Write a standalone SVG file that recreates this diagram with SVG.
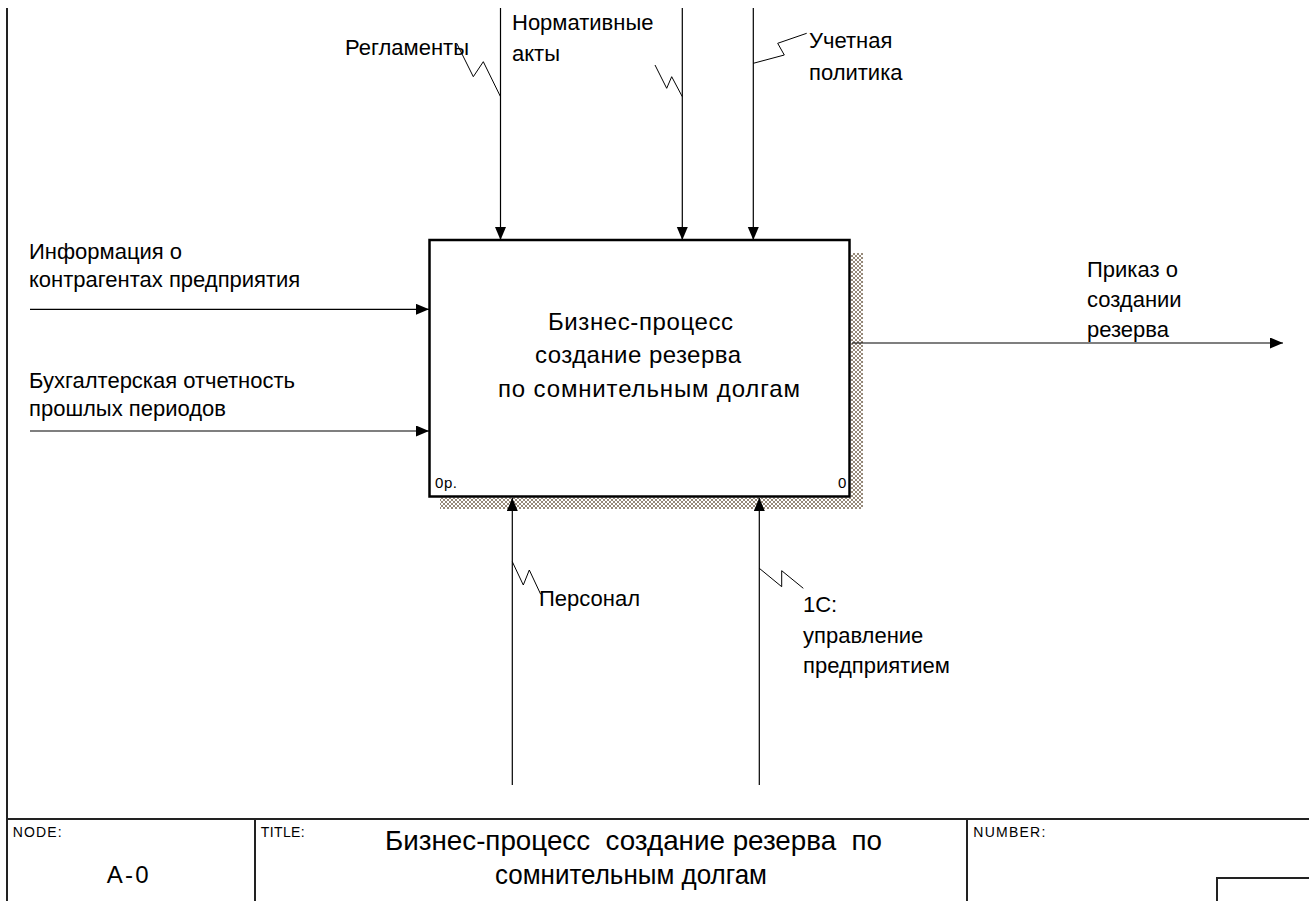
<svg xmlns="http://www.w3.org/2000/svg" width="1309" height="901" viewBox="0 0 1309 901">
<style>
.lbl{font-family:"Liberation Sans",Arial,sans-serif;font-size:22px;fill:#000}
.box-t{font-family:"Liberation Sans",Arial,sans-serif;font-size:24px;fill:#000}
.small{font-family:"Liberation Sans",Arial,sans-serif;font-size:14px;fill:#000}
.nodeid{font-family:"Liberation Sans",Arial,sans-serif;font-size:24px;fill:#000}
.ttl{font-family:"Liberation Sans",Arial,sans-serif;font-size:28px;fill:#000}
.conn{stroke:#000;stroke-width:1.2;fill:none}
.sq{stroke:#000;stroke-width:1;fill:none}
.frame{stroke:#222;stroke-width:2;fill:none}
</style>
<defs>
<marker id="ah" markerUnits="userSpaceOnUse" markerWidth="14" markerHeight="12" refX="13" refY="5.5" orient="auto">
<path d="M0,0 L13,5.5 L0,11 Z" fill="#000"/>
</marker>
<pattern id="hatch" patternUnits="userSpaceOnUse" width="4" height="4">
<rect width="4" height="4" fill="#fff"/>
<path d="M0,0 L4,4 M4,0 L0,4" stroke="#8a7c6a" stroke-width="0.9"/>
</pattern>
</defs>
<rect width="1309" height="901" fill="#fff"/>

<g id="frame">
<line class="frame" x1="7" y1="8" x2="7" y2="901"/>
<line class="frame" x1="7" y1="819" x2="1309" y2="819"/>
<line class="frame" x1="255" y1="819" x2="255" y2="901"/>
<line class="frame" x1="967" y1="819" x2="967" y2="901"/>
<path class="frame" d="M1217,901 V878 H1309" stroke-width="1.5"/>
<text class="small" x="12.7" y="837" textLength="49" lengthAdjust="spacing">NODE:</text>
<text class="nodeid" x="106.7" y="883" textLength="42" lengthAdjust="spacing">A-0</text>
<text class="small" x="260.7" y="837" textLength="44" lengthAdjust="spacing">TITLE:</text>
<text class="ttl" x="385" y="850" textLength="497" lengthAdjust="spacingAndGlyphs" xml:space="preserve">Бизнес-процесс  создание резерва  по</text>
<text class="ttl" x="495" y="884" textLength="272" lengthAdjust="spacingAndGlyphs">сомнительным долгам</text>
<text class="small" x="973.3" y="837" textLength="72" lengthAdjust="spacing">NUMBER:</text>
</g>

<g id="node-A0">
<path d="M851,253 H863 V509 H440 V497.5 H851 Z" fill="url(#hatch)"/>
<rect x="429.5" y="240" width="420" height="256.5" fill="#fff" stroke="#000" stroke-width="2.5"/>
<text class="box-t" x="548" y="330" textLength="185" lengthAdjust="spacing">Бизнес-процесс</text>
<text class="box-t" x="535" y="363" textLength="206" lengthAdjust="spacing">создание резерва</text>
<text class="box-t" x="498" y="397" textLength="302" lengthAdjust="spacing">по сомнительным долгам</text>
<text class="small" x="435" y="488" style="font-size:15px" textLength="22" lengthAdjust="spacing">0р.</text>
<text class="small" x="838" y="488" style="font-size:15px">0</text>
</g>

<g id="connectors">
<line class="conn" x1="500.5" y1="8" x2="500.5" y2="240" marker-end="url(#ah)"/>
<line class="conn" x1="682.3" y1="8" x2="682.3" y2="240" marker-end="url(#ah)"/>
<line class="conn" x1="753.3" y1="8" x2="753.3" y2="240" marker-end="url(#ah)"/>
<line class="conn" x1="30" y1="309.3" x2="429" y2="309.3" marker-end="url(#ah)"/>
<line class="conn" x1="30" y1="431" x2="429" y2="431" marker-end="url(#ah)"/>
<line class="conn" x1="852" y1="343" x2="1283" y2="343" marker-end="url(#ah)"/>
<line class="conn" x1="512.3" y1="785" x2="512.3" y2="498" marker-end="url(#ah)"/>
<line class="conn" x1="759.3" y1="785" x2="759.3" y2="498" marker-end="url(#ah)"/>
<polyline class="sq" points="456.7,43.3 473.3,76.7 483.3,61.7 500.5,96.7"/>
<polyline class="sq" points="655,65 666.7,88.3 671.7,76.7 682.3,96.7"/>
<polyline class="sq" points="753.3,63.3 784.3,55 777.7,43.3 806.7,33.3"/>
<polyline class="sq" points="512.3,561.7 523.3,585 529.3,570 540.7,594.3"/>
<polyline class="sq" points="759.3,568.3 781.7,586.7 781.7,570.7 803.3,588.3"/>
</g>

<g id="labels">
<text class="lbl" x="345" y="55">Регламенты</text>
<text class="lbl" x="512" y="30">Нормативные</text>
<text class="lbl" x="512" y="61">акты</text>
<text class="lbl" x="809" y="48">Учетная</text>
<text class="lbl" x="809" y="80">политика</text>
<text class="lbl" x="29" y="259">Информация о</text>
<text class="lbl" x="29" y="287">контрагентах предприятия</text>
<text class="lbl" x="29" y="388">Бухгалтерская отчетность</text>
<text class="lbl" x="29" y="415.5">прошлых периодов</text>
<text class="lbl" x="1087" y="277">Приказ о</text>
<text class="lbl" x="1087" y="307">создании</text>
<text class="lbl" x="1087" y="337">резерва</text>
<text class="lbl" x="539" y="606">Персонал</text>
<text class="lbl" x="803" y="612">1С:</text>
<text class="lbl" x="803" y="643">управление</text>
<text class="lbl" x="803" y="673">предприятием</text>
</g>
</svg>
